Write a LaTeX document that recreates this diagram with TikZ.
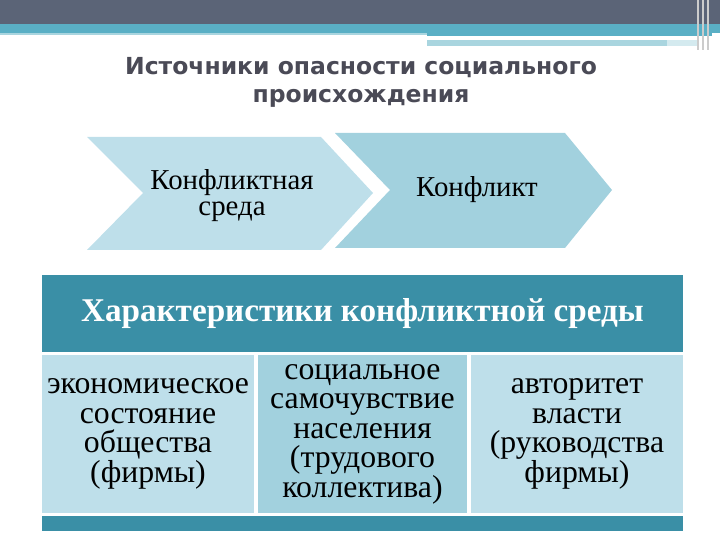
\documentclass[tikz,border=0pt]{standalone}
\usepackage{fontspec}
\setmainfont{Liberation Serif}
\newfontfamily\titlefont{DejaVu Sans}

\definecolor{verkh}{HTML}{5B6477}
\definecolor{biryuza}{HTML}{5AAFC5}
\definecolor{svetlo}{HTML}{A9D5DF}
\definecolor{goluboi}{HTML}{BEDFEA}
\definecolor{sinii}{HTML}{A2D1DE}
\definecolor{temnyi}{HTML}{3A8FA6}
\definecolor{seryi}{HTML}{4A4A56}

\begin{document}
\begin{tikzpicture}[
    yacheika/.style={rectangle, align=center, font=\fontsize{22.6}{21}\selectfont, minimum width=5.3cm, minimum height=3.95cm, inner sep=0pt},
    shapka/.style={rectangle, fill=temnyi, text=white, font=\fontsize{23.6}{26}\selectfont\bfseries, minimum width=16.025cm, minimum height=1.925cm},
    strelka/.style={align=center, font=\fontsize{20.5}{18.5}\selectfont},
]

\useasboundingbox (0,0) rectangle (18,13.5);

% polosy sverhu
\fill[verkh] (0,12.9) rectangle (18,13.5);
\fill[biryuza] (0,12.675) rectangle (18,12.9);
\fill[biryuza] (10.675,12.6) rectangle (17.8,12.675);
\fill[svetlo] (0,12.625) rectangle (10.675,12.675);
\fill[svetlo] (10.675,12.35) rectangle (16.675,12.5);
\fill[svetlo!50] (16.675,12.35) rectangle (17.45,12.5);
\foreach \x in {17.45,17.575,17.7}
  \draw[gray!40, line width=1pt] (\x,13.5) -- (\x,12.25);

\node (title) [align=center, text=seryi, font=\titlefont\bfseries\fontsize{16.7}{20}\selectfont] at (9.025,11.45) {Источники опасности социального\\ происхождения};

% strelki
\fill[goluboi] (2.175,10.075) -- (8.025,10.075) -- (9.325,8.675) -- (8.025,7.25) -- (2.175,7.25) -- (3.575,8.675) -- cycle;
\fill[sinii] (8.375,10.175) -- (14.125,10.175) -- (15.3,8.75) -- (14.125,7.3) -- (8.375,7.3) -- (9.75,8.75) -- cycle;

\node (sreda) [strelka] at (5.8,8.6) {Конфликтная\\ среда};
\node (konflikt) [strelka] at (11.925,8.75) {Конфликт};

% tablica
\node (harakt) [shapka] at (9.0625,5.6625) {Характеристики конфликтной среды};

\node (ekonom) [yacheika, fill=goluboi] at (3.7,2.65) {экономическое\\ состояние\\ общества\\ (фирмы)};
\node (samochuv) [yacheika, fill=sinii, minimum width=5.225cm] at (9.0625,2.65) {социальное\\ самочувствие\\ населения\\ (трудового\\ коллектива)};
\node (avtoritet) [yacheika, fill=goluboi] at (14.425,2.65) {авторитет\\ власти\\ (руководства\\ фирмы)};

\fill[temnyi] (1.05,0.225) rectangle (17.075,0.6);

\end{tikzpicture}
\end{document}
